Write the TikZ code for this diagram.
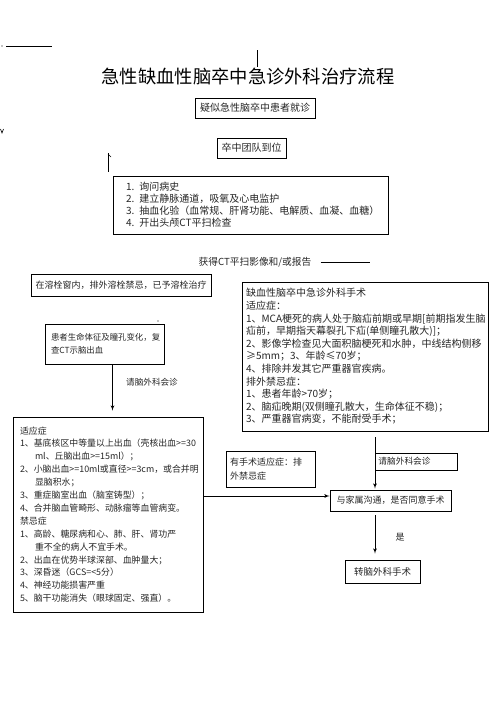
\documentclass[tikz,border=0pt]{standalone}
\usepackage{fontspec}
\usepackage{tikz}
\usetikzlibrary{arrows}
\newfontfamily\cjk{Noto Sans CJK SC}
\newcommand{\fs}[2]{\fontsize{#1}{#2}\selectfont}
\newcommand{\ind}{\hspace*{15pt}}
\tikzset{
    mybox/.style={rectangle, draw=black, line width=0.8pt, inner sep=0pt, text=black!85, font=\cjk\fs{9}{11}},
    mytext/.style={text=black!85, font=\cjk\fs{9}{11}, inner sep=0pt},
    myarrow/.style={->, >=latex', line width=0.8pt},
    myline/.style={line width=0.8pt}
}
\begin{document}
\begin{tikzpicture}[x=1pt,y=-1pt]
    \useasboundingbox (0,0) rectangle (496,702);
    \draw (248,77) node[mytext, text=black, font=\cjk\fs{18.3}{22}] (title) {急性缺血性脑卒中急诊外科治疗流程};
    \draw (255,108) node[mybox, minimum width=120pt, minimum height=20pt, font=\cjk\fs{10}{12}] (suspect) {疑似急性脑卒中患者就诊};
    \draw (251.5,148) node[mybox, minimum width=69pt, minimum height=20pt, font=\cjk\fs{10}{12}] (team) {卒中团队到位};
    \draw (250.5,205) node[mybox, minimum height=58pt, inner xsep=13pt, text width=249pt, align=left, font=\cjk\fs{10}{12}] (steps)
        {1.\hspace{5pt}询问病史\\2.\hspace{5pt}建立静脉通道，吸氧及心电监护\\3.\hspace{5pt}抽血化验（血常规、肝肾功能、电解质、血凝、血糖）\\4.\hspace{5pt}开出头颅CT平扫检查};
    \draw (255,262) node[mytext, font=\cjk\fs{9.7}{12}] (ct) {获得CT平扫影像和/或报告};
    \coordinate (ctend) at (370,262);
    \draw[myline] ([xshift=9pt]ct.east) -- (ctend);
    \draw (121,285) node[mybox, minimum width=180pt, minimum height=22pt] (lysis) {在溶栓窗内，排外溶栓禁忌，已予溶栓治疗};
    \draw (104.5,344) node[mybox, minimum height=40pt, inner xsep=6pt, text width=107pt, align=left, font=\cjk\fs{8.4}{13}] (hemo)
        {患者生命体征及瞳孔变化，复\\查CT示脑出血};
    \draw (365,356.5) node[mybox, minimum height=149pt, inner xsep=4pt, text width=238pt, align=left, font=\cjk\fs{10}{12.6}] (rules)
        {缺血性脑卒中急诊外科手术\\适应症：\\1、MCA梗死的病人处于脑疝前期或早期[前期指发生脑\\疝前，早期指天幕裂孔下疝(单侧瞳孔散大)]；\\2、影像学检查见大面积脑梗死和水肿，中线结构侧移\\≥5mm；3、年龄≤70岁；\\4、排除并发其它严重器官疾病。\\排外禁忌症：\\1、患者年龄>70岁；\\2、脑疝晚期(双侧瞳孔散大，生命体征不稳)；\\3、严重器官病变，不能耐受手术；};
    \draw (108,514.5) node[mybox, minimum height=195pt, inner xsep=7pt, text width=176pt, align=left, font=\cjk\fs{8.9}{12.9}] (left)
        {适应症\\1、基底核区中等量以上出血（壳核出血>=30\\\ind ml、丘脑出血>=15ml）；\\2、小脑出血>=10ml或直径>=3cm，或合并明\\\ind 显脑积水；\\3、重症脑室出血（脑室铸型）；\\4、合并脑血管畸形、动脉瘤等血管病变。\\禁忌症\\1、高龄、糖尿病和心、肺、肝、肾功严\\\ind 重不全的病人不宜手术。\\2、出血在优势半球深部、血肿量大；\\3、深昏迷（GCS=<5分）\\4、神经功能损害严重\\5、脑干功能消失（眼球固定、强直）。\\[4pt]};
    \draw (152,382) node[mytext, font=\cjk\fs{8.6}{11}] (askleft) {请脑外科会诊};
    \draw (270.5,469) node[mybox, minimum height=36pt, inner xsep=4pt, text width=81pt, align=left, font=\cjk\fs{9}{14}] (indic)
        {有手术适应症：排\\外禁忌症};
    \draw (390.5,500.5) node[mybox, minimum width=121pt, minimum height=21pt] (family) {与家属沟通，是否同意手术};
    \draw (382.5,571.5) node[mybox, minimum width=75pt, minimum height=23pt, font=\cjk\fs{9.5}{11}] (surgery) {转脑外科手术};
    \draw (375,461.5) node[mybox, anchor=west, minimum height=17pt, inner xsep=3pt, text width=76pt, align=left, font=\cjk\fs{8.7}{11}] (askright) {请脑外科会诊};
    \draw (400,537) node[mytext] (yes) {是};
    \coordinate (famin) at ([yshift=4.5pt]family.west);
    \draw[myarrow, shorten >=6pt] ([xshift=8pt]hemo.south) -- ([xshift=8pt]hemo.south |- left.north);
    \draw[myarrow, shorten <=6pt, shorten >=1pt] ([xshift=10pt]rules.south) -- ([xshift=10pt]rules.south |- family.north);
    \draw[myarrow] (left.east |- famin) -- (famin);
    \draw[myarrow, shorten <=4pt, shorten >=6pt] ([xshift=-15.5pt]family.south) -- ([xshift=-15.5pt]family.south |- surgery.north);
    \draw[myline] (6,46) -- (52,46);
    \fill (2,46) circle (0.6pt);
    \draw[myline] (257,50) -- (257,67);
    \draw[line width=0.6pt] (0.5,129) -- (2,133) -- (3.5,129);
    \draw[myline] (108,153) -- (108,172);
    \draw[line width=0.6pt] (108,154) -- (111,157);
    \fill (158,321) circle (0.6pt);
\end{tikzpicture}
\end{document}
